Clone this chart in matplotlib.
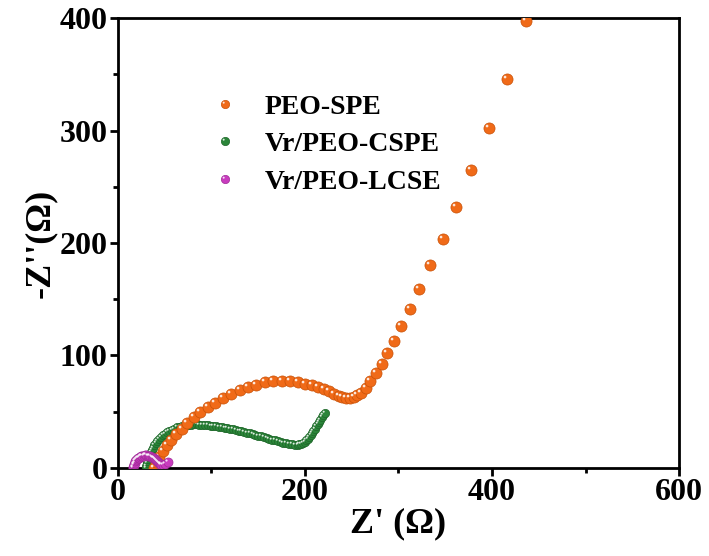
import numpy as np
import matplotlib.pyplot as plt
from matplotlib.path import Path
from matplotlib.lines import Line2D
from matplotlib.legend_handler import HandlerTuple

# Nyquist data (Z', -Z'')
spe_x = [38, 41, 44, 48, 52, 57, 62, 68, 74, 81, 88, 96, 104, 112, 121, 130, 139, 148, 157, 166,
         175, 184, 192, 200, 207, 214, 220, 226, 231, 236, 240, 244, 248, 252, 256, 260, 265, 270,
         276, 282, 288, 295, 303, 312, 322, 334, 348, 362, 378, 397, 416, 436]
spe_y = [0, 5, 10, 15, 20, 25, 30, 35, 40, 45, 50, 54, 58, 62, 66, 69, 72, 74, 76, 77,
         77, 77, 76, 75, 74, 72, 70, 68, 66, 64, 63, 62, 62, 63, 65, 67, 71, 77,
         84, 92, 102, 113, 126, 141, 159, 180, 204, 232, 265, 302, 346, 397]

cspe_x = [30, 30.5, 31, 31.5, 32, 33, 34, 35, 36, 37.5,
          39, 40.5, 42, 44, 46, 48, 50, 52.5, 55, 57.5,
          60, 63, 66, 69, 72, 75, 78, 81, 84, 87,
          90, 93, 96, 99, 102, 105, 108, 111, 114, 117,
          120, 123, 126, 129, 132, 135, 138, 141, 144, 147,
          150, 153, 156, 159, 162, 165, 168, 171, 174, 177,
          180, 183, 186, 189, 192, 194, 196, 198, 200, 201.5,
          203, 204.5, 206, 207.5, 209, 210.5, 212, 213.5, 215, 216.5,
          218, 219.5, 221]
cspe_y = [0, 2, 4, 6, 8, 10, 12, 14, 16, 18,
          20, 22, 24, 26, 27.5, 29, 30.5, 32, 33, 34,
          35, 36, 36.8, 37.5, 38, 38.4, 38.6, 38.7, 38.7, 38.6,
          38.4, 38.2, 38, 37.7, 37.4, 37, 36.6, 36.2, 35.8, 35.3,
          34.8, 34.3, 33.8, 33.2, 32.6, 32, 31.4, 30.8, 30.2, 29.5,
          28.8, 28.1, 27.4, 26.7, 26, 25.3, 24.6, 23.9, 23.2, 22.6,
          22, 21.5, 21.1, 20.8, 20.8, 21, 21.5, 22.3, 23.5, 24.8,
          26.2, 27.8, 29.5, 31.3, 33.2, 35.1, 37, 39, 41, 43,
          45, 47, 49]

lcse_x = [16, 16.3, 16.7, 17.2, 17.8, 18.5, 19.3, 20.2, 21.2, 22.3,
          23.5, 24.8, 26.2, 27.6, 29, 30.4, 31.8, 33.2, 34.6, 36,
          37.3, 38.6, 39.8, 41, 42.1, 43.1, 44, 44.8, 45.6, 46.5,
          48, 50, 53]
lcse_y = [0, 1.2, 2.4, 3.6, 4.8, 5.9, 6.9, 7.8, 8.6, 9.3,
          9.9, 10.4, 10.8, 11, 11.1, 11.1, 11, 10.7, 10.3, 9.8,
          9.2, 8.5, 7.8, 7, 6.2, 5.4, 4.6, 3.9, 3.3, 3,
          3, 3.5, 5]

labels = ['PEO-SPE', 'Vr/PEO-CSPE', 'Vr/PEO-LCSE']
colors = ['#F06A18', '#2B8539', '#C83CBE']
edges = ['#C85208', '#1E6629', '#A02A98']
sizes = [8.0, 6.0, 6.5]

plt.rcParams['font.family'] = ['Liberation Serif', 'DejaVu Serif']
plt.rcParams['font.weight'] = 'bold'

fig = plt.figure(figsize=(7.09, 5.56), dpi=100)
ax = fig.add_axes([0.1664, 0.1583, 0.7913, 0.8093])

# small offset circle used as the glossy highlight
hl = Path.circle(center=(-0.22, 0.22), radius=0.12)

series = [(cspe_x, cspe_y, 1), (spe_x, spe_y, 0), (lcse_x, lcse_y, 2)]
for i, (xs, ys, c) in enumerate(series):
    D = sizes[c]
    ax.scatter(xs, ys, s=D ** 2, color=colors[c], edgecolors=edges[c], linewidths=0.5,
               zorder=3 + i)
    ax.scatter(xs, ys, s=(0.68 * D) ** 2, marker=hl, color='white', alpha=0.85,
               linewidths=0, zorder=3 + i)

handles = []
for c in range(3):
    h1 = Line2D([], [], marker='o', ls='', ms=6, mfc=colors[c], mec=edges[c], mew=0.5)
    h2 = Line2D([], [], marker=hl, ls='', ms=0.68 * 6, mfc='white', mec='none', alpha=0.85)
    handles.append((h1, h2))
ax.legend(handles, labels, handler_map={tuple: HandlerTuple(ndivide=1)},
          loc='upper left', bbox_to_anchor=(0.166, 0.831), frameon=False,
          fontsize=20, handlelength=1.0, handletextpad=0.94, labelspacing=0.44,
          borderpad=0, borderaxespad=0)

ax.set_xlim(0, 600)
ax.set_ylim(0, 400)
ax.set_xticks([0, 200, 400, 600])
ax.set_xticks([100, 300, 500], minor=True)
ax.set_yticks([0, 100, 200, 300, 400])
ax.set_yticks([50, 150, 250, 350], minor=True)
ax.tick_params(which='both', direction='out', width=2, top=False, right=False,
               labelsize=23, pad=1.5)
ax.tick_params(which='major', length=6)
ax.tick_params(which='minor', length=3.5)
for sp in ax.spines.values():
    sp.set_linewidth(2)

ax.set_xlabel("Z' (Ω)", fontsize=26, fontweight='bold', labelpad=0)
ax.set_ylabel("-Z''(Ω)", fontsize=26, fontweight='bold', labelpad=2)

fig.savefig('out.png', dpi=100)
